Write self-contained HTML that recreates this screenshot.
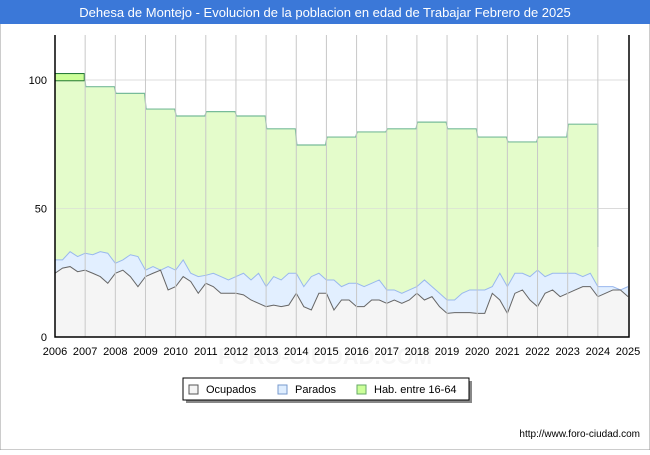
<!DOCTYPE html>
<html><head><meta charset="utf-8"><style>
body{margin:0;width:650px;height:450px;background:#fff;font-family:"Liberation Sans",sans-serif;overflow:hidden}
</style></head><body>
<svg width="650" height="450" xmlns="http://www.w3.org/2000/svg">
<rect x="0" y="0" width="650" height="450" fill="#fff" stroke="#999"/>
<rect x="0" y="0" width="650" height="24" fill="#3b78d8"/>
<text x="325" y="17" text-anchor="middle" fill="#fff" font-size="13">Dehesa de Montejo - Evolucion de la poblacion en edad de Trabajar Febrero de 2025</text>
<text x="325" y="364" text-anchor="middle" fill="#f6f6f6" font-size="22" font-weight="bold">FORO-CIUDAD.COM</text>
<g id="grid"></g>
<g id="series"></g>
<g id="axes"></g>
<g>
<rect x="186" y="381" width="286" height="22" fill="#888"/>
<rect x="183" y="378" width="286" height="22" fill="#fff" stroke="#000"/>
<g><rect x="189" y="385" width="9" height="9" fill="#f4f4f4" stroke="#555"/><text x="206" y="393" font-size="11">Ocupados</text></g>
<g><rect x="278" y="385" width="9" height="9" fill="#dfeeff" stroke="#7799cc"/><text x="295" y="393" font-size="11">Parados</text></g>
<g><rect x="357" y="385" width="9" height="9" fill="#ccff99" stroke="#66aa66"/><text x="374" y="393" font-size="11">Hab. entre 16-64</text></g>
</g>
<text x="640" y="437" text-anchor="end" font-size="10" fill="#000">http://www.foro-ciudad.com</text>
</svg>
<script>
const years=[2006,2007,2008,2009,2010,2011,2012,2013,2014,2015,2016,2017,2018,2019,2020,2021,2022,2023,2024,2025];
const yTicks=[0,50,100];
const habYears=[2006,2007,2008,2009,2010,2011,2012,2013,2014,2015,2016,2017,2018,2019,2020,2021,2022,2023];
const habValues=[102.5,97.4,94.8,88.7,86,87.7,86,81,74.7,77.8,79.8,81,83.6,81,77.8,75.9,77.8,82.8];
const habLastValue=35;
const ocupados=[24.8,26.8,27.4,25.4,26,24.8,23.5,20.9,24.8,26,23.5,19.6,23.5,24.8,26,18.3,19.6,23.5,21.6,17,20.9,19.6,17,17,17,16.4,14.4,13.1,11.8,12.4,11.8,12.4,17,11.8,10.5,17,17,10.5,14.4,14.4,11.8,11.8,14.4,14.4,13.1,14.4,13.1,14.4,17,14.4,15.7,11.8,9.2,9.5,9.5,9.5,9.2,9.2,17,14.4,9.2,17,18.3,14.4,11.8,17,18.3,15.7,17,18.3,19.6,19.6,15.7,17,18.3,18.3,15.7];
const total=[30,30,33.2,31.3,32.6,32,33.2,32.6,28.7,30,32,31.3,26,27.4,26,27.4,26,30,24.8,23.5,24,24.8,23.5,22.2,23.5,24.8,22.2,24.8,19.6,23.5,22.2,24.8,24.8,19.6,23.5,24.8,22.2,22.2,19.6,20.9,20.9,19.6,20.9,22.2,18.3,18.3,17,18.3,19.6,22.2,19.6,17,14.4,14.4,17,18.3,18.3,18.3,19.6,24.8,19.6,24.8,24.8,23.5,26,23.5,24.8,24.8,24.8,24.8,23.5,24.8,19.6,19.6,19.6,18.3,19.6];
const NS="http://www.w3.org/2000/svg";
const X0=55,X1=628,Y0=337,Y1=80;
const xs=t=>X0+(t-2006)*(X1-X0)/19;
const ys=v=>Y0-v*(Y0-Y1)/100;
function mk(tag,attrs,parent){const e=document.createElementNS(NS,tag);for(const k in attrs)e.setAttribute(k,attrs[k]);parent.appendChild(e);return e;}
const grid=document.getElementById('grid'),ser=document.getElementById('series'),ax=document.getElementById('axes');
yTicks.forEach(v=>{const l=mk('line',{x1:X0,x2:X1,y1:ys(v),y2:ys(v),stroke:'#ddd'},grid);


const t=mk('text',{x:X0-8,y:ys(v)+4,'text-anchor':'end','font-size':'11'},ax);t.textContent=v;

});
let hp=[];habYears.forEach((y,i)=>{hp.push([xs(y+(i?0.02:0)),ys(habValues[i])]);hp.push([xs(y+0.97),ys(habValues[i])]);});
hp.push([xs(2024),ys(habValues[habValues.length-1])]);hp.push([xs(2024),ys(habLastValue)]);
const hs=hp.map(p=>p.join(',')).join(' ');
const ha=mk('polygon',{points:X0+','+Y0+' '+hs+' '+xs(2024)+','+Y0,fill:'#e4fccb'},ser);


const hl=mk('polyline',{points:hs,fill:'none',stroke:'#77bb99','stroke-width':1.2},ser);


const t0=ys(habValues[0]),t1=ys(99.7);
const hb=mk('rect',{x:X0,y:t0,width:xs(2006.97)-X0,height:t1-t0,fill:'#ccff99',stroke:'#227733'},ser);


const tq=i=>2006+i/4;
const tp=total.map((v,i)=>xs(tq(i))+','+ys(v)).join(' ');
const n=total.length-1;
const pa=mk('polygon',{points:X0+','+Y0+' '+tp+' '+xs(tq(n))+','+Y0,fill:'#e2efff'},ser);


const pl=mk('polyline',{points:tp,fill:'none',stroke:'#99b8ee'},ser);


const op=ocupados.map((v,i)=>xs(tq(i))+','+ys(v)).join(' ');
const oa=mk('polygon',{points:X0+','+Y0+' '+op+' '+xs(tq(n))+','+Y0,fill:'#f5f5f5'},ser);


const ol=mk('polyline',{points:op,fill:'none',stroke:'#666'},ser);


const hg=mk('line',{x1:X0,x2:X1,y1:ys(50),y2:ys(50),stroke:'#d8d8d8','stroke-opacity':0.6},ax);


years.forEach(y=>{if(y>2006&&y<2025){const l=mk('line',{x1:xs(y),x2:xs(y),y1:35,y2:Y0,stroke:'#c8c8c8'},ax);

}
const t=mk('text',{x:xs(y),y:355,'text-anchor':'middle','font-size':'11'},ax);t.textContent=y;

});
const a1=mk('polyline',{points:X0+',35 '+X0+','+Y0+' '+(X1+1)+','+Y0+' '+(X1+1)+',35',fill:'none',stroke:'#000','stroke-width':1.5},ax);


</script>
</body></html>
